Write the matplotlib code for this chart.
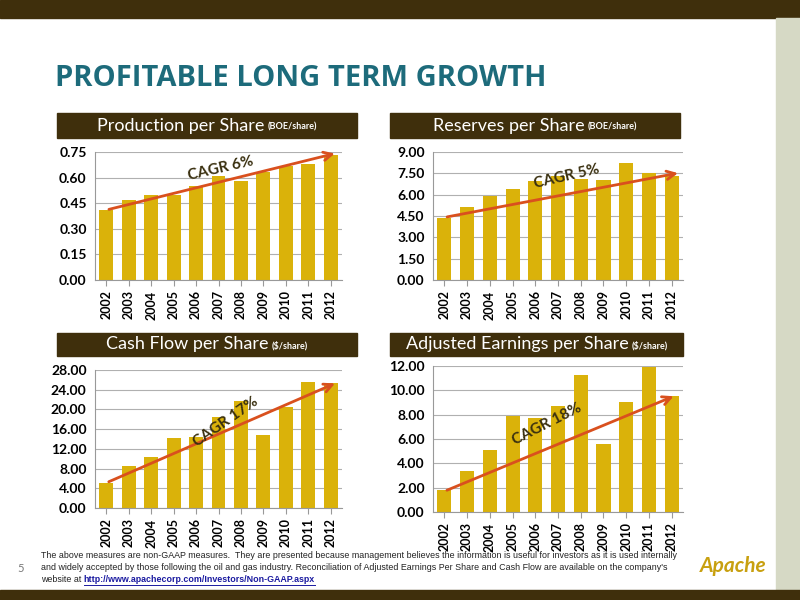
import matplotlib
matplotlib.use("Agg")
import matplotlib.pyplot as plt
from matplotlib.patches import Rectangle
from matplotlib.lines import Line2D

plt.rcParams['font.family'] = ['Lato', 'DejaVu Sans']

years = [str(y) for y in range(2002, 2013)]
production = [0.41, 0.47, 0.50, 0.50, 0.55, 0.61, 0.58, 0.63, 0.67, 0.68, 0.73]
reserves = [4.37, 5.10, 5.89, 6.38, 6.99, 7.34, 7.10, 7.04, 8.25, 7.55, 7.32]
cash_flow = [5.15, 8.6, 10.4, 14.2, 14.4, 18.5, 21.8, 14.8, 20.5, 25.6, 25.3]
earnings = [1.81, 3.37, 5.06, 7.9, 7.7, 8.69, 11.3, 5.63, 9.03, 11.9, 9.5]

W, H = 800, 600
fig = plt.figure(figsize=(8, 6), dpi=100)
fig.patch.set_facecolor('white')
renderer = fig.canvas.get_renderer()
BROWN = '#3f2f0c'
GOLD = '#dab20a'
ARROW = '#d9501e'

def rect(x, y, w, h, color, z=0):
    fig.patches.append(Rectangle((x / W, 1 - (y + h) / H), w / W, h / H,
                                 transform=fig.transFigure, color=color, zorder=z))

def width_px(t):
    return t.get_window_extent(renderer).width

rect(0, 0, 800, 18, BROWN)
rect(776, 18, 24, 572, '#d6d9c5')
rect(0, 590, 800, 10, BROWN)
fig.text(55 / W, 1 - 78 / H, 'PROFITABLE LONG TERM GROWTH', color='#1d6b7b',
         fontsize=21, fontweight='bold', va='center', family=['Open Sans', 'DejaVu Sans'])

def chart(pos, hdr, title, unit, vals, ymax, step, fmt, arrow, label, lpos, rot):
    x0, y0, x1, y1 = pos
    hx, hy, hw, hh = hdr
    rect(hx, hy, hw, hh, BROWN)
    cy = 1 - (hy + hh / 2) / H
    t = fig.text(0, cy, title, color='white', fontsize=13, ha='left', va='center')
    u = fig.text(0, cy - 1.5 / H, unit, color='white', fontsize=6.5, fontweight='bold',
                 ha='left', va='center')
    wt, wu = width_px(t), width_px(u)
    total = wt + 3 + wu
    sx = hx + hw / 2 - total / 2
    t.set_x(sx / W)
    u.set_x((sx + wt + 3) / W)
    ax = fig.add_axes([x0 / W, 1 - y1 / H, (x1 - x0) / W, (y1 - y0) / H])
    ax.bar(range(len(vals)), vals, width=0.62, color=GOLD, zorder=2)
    ax.set_xlim(-0.5, len(vals) - 0.5)
    ax.set_ylim(0, ymax)
    ticks = [i * step for i in range(int(round(ymax / step)) + 1)]
    ax.set_yticks(ticks)
    ax.set_yticklabels([fmt.format(v) for v in ticks], fontsize=10, fontweight='bold')
    ax.set_xticks(range(len(vals)))
    ax.set_xticklabels(years, rotation=90, fontsize=9, fontweight='bold')
    ax.grid(axis='y', color='#b0b0b0', lw=0.8, zorder=0)
    for s in ['top', 'right']:
        ax.spines[s].set_visible(False)
    ax.spines['left'].set_color('#999999')
    ax.spines['bottom'].set_color('#999999')
    ax.tick_params(axis='y', length=0, pad=6)
    ax.tick_params(axis='x', length=4, color='#999999')
    ax.annotate('', xy=arrow[1], xytext=arrow[0],
                arrowprops=dict(arrowstyle='->', color=ARROW, lw=2, mutation_scale=15), zorder=5)
    ax.text(lpos[0], lpos[1], label, rotation=rot, fontsize=11, fontweight='bold',
            color='#3a3010', ha='center', va='center', zorder=6)

chart((95, 152, 342, 280), (57, 113, 300, 25), 'Production per Share', '(BOE/share)',
      production, 0.75, 0.15, '{:.2f}', ((0, 0.41), (10.3, 0.745)), 'CAGR 6%', (5.1, 0.65), 13)
chart((433, 152, 683, 280), (390, 113, 290, 25), 'Reserves per Share', '(BOE/share)',
      reserves, 9.0, 1.5, '{:.2f}', ((0, 4.4), (10.4, 7.55)), 'CAGR 5%', (5.4, 7.3), 13)
chart((95, 370, 342, 508), (57, 333, 300, 23), 'Cash Flow per Share', '($/share)',
      cash_flow, 28.0, 4.0, '{:.2f}', ((0, 5.1), (10.3, 25.5)), 'CAGR 17%', (5.3, 17.5), 35)
chart((433, 366, 683, 512), (390, 333, 293, 23), 'Adjusted Earnings per Share', '($/share)',
      earnings, 12.0, 2.0, '{:.2f}', ((0, 1.7), (10.2, 9.6)), 'CAGR 18%', (4.5, 7.2), 27)

lines = ["The above measures are non-GAAP measures.  They are presented because management believes the information is useful for investors as it is used internally",
         "and widely accepted by those following the oil and gas industry. Reconciliation of Adjusted Earnings Per Share and Cash Flow are available on the company's",
         "website at "]
FF = ['Liberation Sans', 'DejaVu Sans']
ys = [556, 568, 580]
for ln, yy in zip(lines, ys):
    tt = fig.text(41 / W, 1 - yy / H, ln, fontsize=6.4, va='center',
                  color='#222222', family=FF)
wl = width_px(tt)
lk = fig.text((41 + wl) / W, 1 - 580 / H, 'http://www.apachecorp.com/Investors/Non-GAAP.aspx',
              fontsize=6.4, color='#1a1aa0', fontweight='bold', va='center', family=FF)
wk = width_px(lk)
fig.lines.append(Line2D([(41 + wl) / W, (41 + wl + wk) / W], [1 - 585 / H] * 2,
                        transform=fig.transFigure, color='#1a1aa0', lw=0.7))
fig.text(17 / W, 1 - 569 / H, '5', fontsize=8, color='#777777', va='center')
fig.text(733 / W, 1 - 566 / H, 'Apache', fontsize=15, color='#c8a010', style='italic',
         fontweight='bold', ha='center', va='center')

fig.savefig('out.png', dpi=100)
